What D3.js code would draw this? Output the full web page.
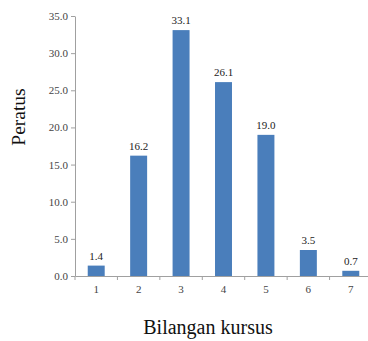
<!DOCTYPE html>
<html><head><meta charset="utf-8">
<script src="https://cdn.jsdelivr.net/npm/d3@7"></script>
<style>body{margin:0;background:#fff}svg{display:block}text{font-family:"Liberation Serif",serif}</style>
</head><body>
<script>
const categories = ["1","2","3","4","5","6","7"];
const values = [1.4, 16.2, 33.1, 26.1, 19.0, 3.5, 0.7];
const yTicks = [0,5,10,15,20,25,30,35];
const yLabel = "Peratus";
const xLabel = "Bilangan kursus";

const W = 368, H = 341;
const m = {left:75, right:-4, top:16, bottom:65};
const svg = d3.select("body").append("svg").attr("width",W).attr("height",H);
const x = d3.scaleBand().domain(categories).range([m.left, W - m.right]).paddingInner(0.6).paddingOuter(0.3);
const y = d3.scaleLinear().domain([0,35]).range([H - m.bottom, m.top]);
const axisColor = "#a0a0a0";
const font = "Liberation Serif";

// y axis
const ya = svg.append("g").attr("transform",`translate(${m.left},0)`)
  .call(d3.axisLeft(y).tickValues(yTicks).tickFormat(d3.format(".1f")).tickSize(4).tickSizeOuter(0));
ya.attr("font-family",null);
ya.select(".domain").attr("stroke",axisColor);
ya.selectAll(".tick line").attr("stroke",axisColor);
ya.selectAll(".tick text").style("font-family",font).attr("font-size",11).attr("fill","#444").attr("x",-7);

// x axis with ticks at band boundaries
const xa = svg.append("g").attr("transform",`translate(0,${y(0)})`)
  .call(d3.axisBottom(x).tickSize(0).tickSizeOuter(0));
xa.attr("font-family",null);
xa.select(".domain").attr("stroke",axisColor);
xa.selectAll(".tick text").style("font-family",font).attr("font-size",11).attr("fill","#444").attr("dy","1.25em");
const step = x.step();
xa.selectAll(".bnd").data(d3.range(categories.length+1)).enter().append("line")
  .attr("x1",i=>m.left + i*step).attr("x2",i=>m.left + i*step)
  .attr("y1",0).attr("y2",4).attr("stroke",axisColor);

// bars
svg.selectAll(".bar").data(values).enter().append("rect")
  .attr("x",(d,i)=>x(categories[i])).attr("width",x.bandwidth())
  .attr("y",d=>y(d)).attr("height",d=>y(0)-y(d)).attr("fill","#4a7ebb");

svg.selectAll(".val").data(values).enter().append("text")
  .attr("x",(d,i)=>x(categories[i])+x.bandwidth()/2).attr("y",d=>y(d)-6)
  .attr("text-anchor","middle").style("font-family",font).attr("font-size",11).attr("fill","#222")
  .text(d=>d.toFixed(1));

// axis titles
svg.append("text").attr("transform","translate(25,117) rotate(-90)").attr("text-anchor","middle")
  .style("font-family",font).attr("font-size",19.5).attr("fill","#111").text(yLabel);
svg.append("text").attr("x",208).attr("y",334).attr("text-anchor","middle")
  .style("font-family",font).attr("font-size",20).attr("fill","#111").text(xLabel);
</script>
</body></html>
